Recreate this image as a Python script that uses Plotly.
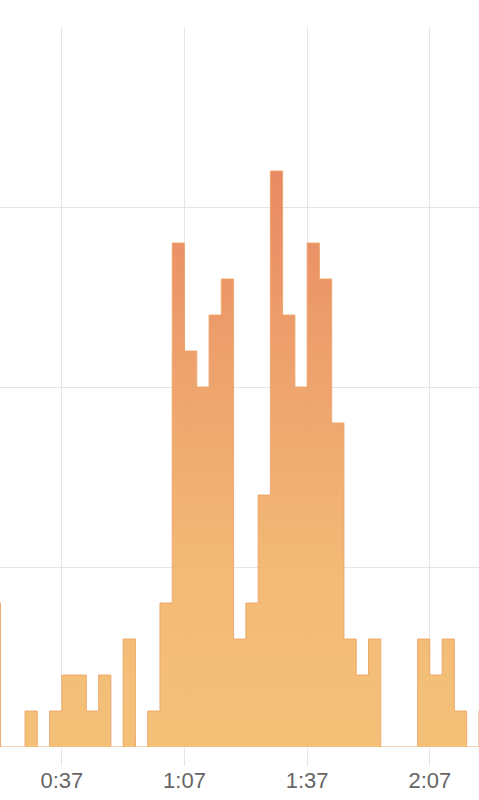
import plotly.graph_objects as go

# bin start times in seconds (3-second bins) and counts
bin_starts = list(range(19, 142, 3))
counts = [4, 0, 0, 1, 0, 1, 2, 2, 1, 2, 0, 3, 0, 1, 4, 14, 11, 10, 12, 13,
          3, 4, 7, 16, 12, 10, 14, 13, 9, 3, 2, 3, 0, 0, 0, 3, 2, 3, 1, 0, 1]
bin_width = 3
tick_vals = [37, 67, 97, 127]
tick_text = ["0:37", "1:07", "1:37", "2:07"]

xs = bin_starts + [bin_starts[-1] + bin_width]
ys = counts + [counts[-1]]

fig = go.Figure()
fig.add_trace(go.Scatter(
    x=xs, y=ys, mode="lines", line=dict(shape="hv", color="rgba(238,165,105,0.9)", width=1),
    fill="tozeroy",
    fillgradient=dict(
        type="vertical",
        colorscale=[[0, "rgba(243,188,110,0.93)"], [0.3, "rgba(242,181,107,0.93)"],
                    [0.62, "rgba(237,158,99,0.93)"], [1, "rgba(231,128,88,0.93)"]],
        start=0, stop=16,
    ),
    hoverinfo="skip", showlegend=False,
))

fig.update_layout(
    width=479, height=800,
    margin=dict(l=0, r=0, t=27, b=53),
    paper_bgcolor="white", plot_bgcolor="white",
    showlegend=False,
)
fig.update_xaxes(
    range=[21.88, 139.02], tickvals=tick_vals, ticktext=tick_text,
    showgrid=True, gridcolor="#e5e5e5", gridwidth=1,
    ticks="outside", ticklen=18, tickcolor="#e5e5e5", tickwidth=1,
    ticklabelstandoff=-4,
    tickfont=dict(family="Liberation Sans, Arial, sans-serif", size=22, color="#666666"),
    zeroline=False, showline=False, fixedrange=True,
)
fig.update_yaxes(
    range=[0, 20], dtick=5, showgrid=True, gridcolor="#e5e5e5", gridwidth=1,
    showticklabels=False, zeroline=False, showline=False, ticks="", fixedrange=True,
)
fig.write_html(
    "out.html",
    config={"displayModeBar": False},
    post_script="document.body.style.margin='0';document.body.style.overflow='hidden';",
)
